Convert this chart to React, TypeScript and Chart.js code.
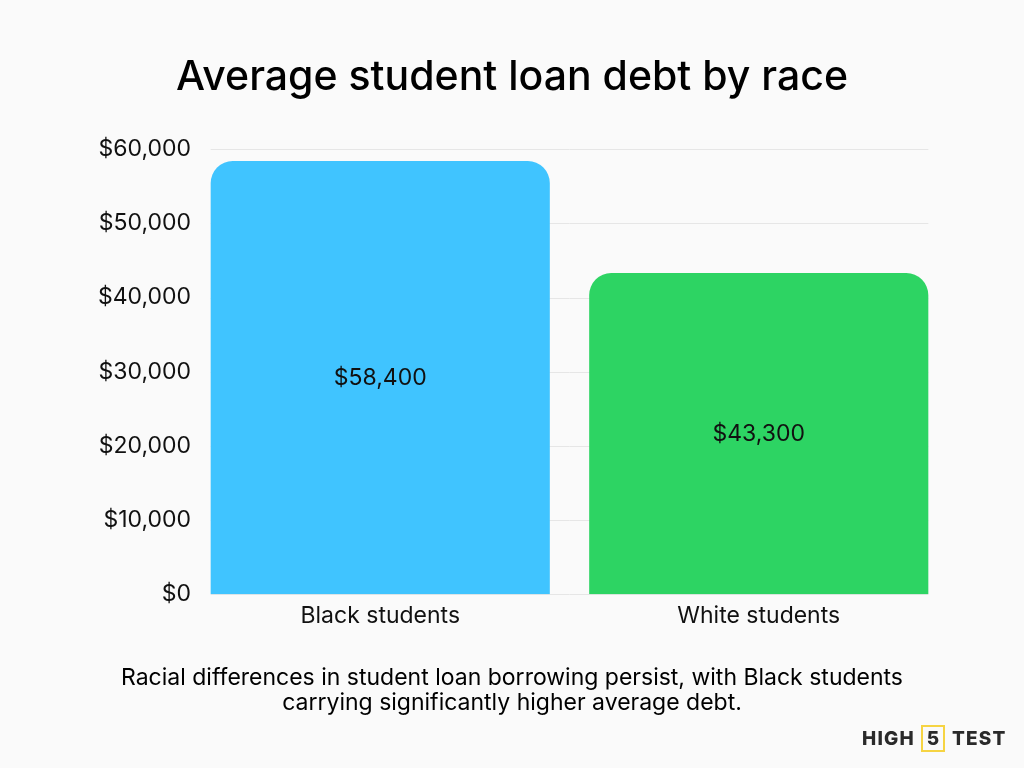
import React, { useEffect, useRef } from "react";
import { Chart, registerables } from "chart.js";

Chart.register(...registerables);

const categories: string[] = ["Black students", "White students"];
const debtValues: number[] = [58400, 43300];
const barColors: string[] = ["#40C4FF", "#2DD463"];
const yTickValues: number[] = [0, 10000, 20000, 30000, 40000, 50000, 60000];
const titleText = "Average student loan debt by race";
const captionLines: string[] = [
  "Racial differences in student loan borrowing persist, with Black students",
  "carrying significantly higher average debt.",
];

const FONT = "Inter, 'Open Sans', sans-serif";

const fmt = (v: number) => "$" + v.toLocaleString("en-US");

const gridPlugin = {
  id: "customGrid",
  beforeDatasetsDraw(chart: any) {
    const meta = chart.getDatasetMeta(0);
    if (!meta || !meta.data.length) return;
    const first = meta.data[0];
    const last = meta.data[meta.data.length - 1];
    const x0 = first.x - first.width / 2;
    const x1 = last.x + last.width / 2;
    const y = chart.scales.y;
    const ctx = chart.ctx;
    ctx.save();
    ctx.strokeStyle = "#e6e6e6";
    ctx.lineWidth = 1;
    y.ticks.forEach((t: any) => {
      const py = Math.round(y.getPixelForValue(t.value)) + 0.5;
      ctx.beginPath();
      ctx.moveTo(x0, py);
      ctx.lineTo(x1, py);
      ctx.stroke();
    });
    ctx.restore();
  },
};

const valueLabelPlugin = {
  id: "valueLabels",
  afterDatasetsDraw(chart: any) {
    const ctx = chart.ctx;
    const meta = chart.getDatasetMeta(0);
    const ds = chart.data.datasets[0];
    ctx.save();
    ctx.font = `400 23px ${FONT}`;
    ctx.fillStyle = "#111";
    ctx.textAlign = "center";
    ctx.textBaseline = "middle";
    meta.data.forEach((bar: any, i: number) => {
      const mid = (bar.y + bar.base) / 2;
      ctx.fillText(fmt(ds.data[i] as number), bar.x, mid);
    });
    ctx.restore();
  },
};

export default function App() {
  const ref = useRef<HTMLCanvasElement | null>(null);

  useEffect(() => {
    if (!ref.current) return;
    const chart = new Chart(ref.current, {
      type: "bar",
      data: {
        labels: categories,
        datasets: [
          {
            data: debtValues,
            backgroundColor: barColors,
            borderRadius: { topLeft: 22, topRight: 22, bottomLeft: 0, bottomRight: 0 },
            borderSkipped: false,
            barPercentage: 0.896,
            categoryPercentage: 1,
          },
        ],
      },
      options: {
        animation: false,
        responsive: false,
        devicePixelRatio: 1,
        layout: { padding: { left: 76, right: 76, top: 0, bottom: 0 } },
        plugins: {
          legend: { display: false },
          tooltip: { enabled: false },
          title: {
            display: true,
            text: titleText,
            color: "#000",
            font: { family: FONT, size: 41, weight: "500", lineHeight: 1.2 },
            padding: { top: 53, bottom: 47 },
          },
          subtitle: {
            display: true,
            position: "bottom",
            text: captionLines,
            color: "#000",
            font: { family: FONT, size: 23, weight: "400", lineHeight: 1.09 },
            padding: { top: 28, bottom: 52 },
          },
        },
        scales: {
          x: {
            grid: { display: false, drawTicks: false },
            border: { display: false },
            ticks: {
              color: "#111",
              font: { family: FONT, size: 23 },
              padding: 8,
            },
          },
          y: {
            min: 0,
            max: 60000,
            afterBuildTicks(scale: any) {
              scale.ticks = yTickValues.map((v) => ({ value: v }));
            },
            afterFit(scale: any) {
              scale.width = 115;
            },
            grid: { display: false, drawTicks: false },
            border: { display: false },
            ticks: {
              color: "#111",
              font: { family: FONT, size: 23 },
              padding: 0,
              callback: (v: any) => fmt(Number(v)),
            },
          },
        },
      },
      plugins: [gridPlugin, valueLabelPlugin],
    });
    return () => chart.destroy();
  }, []);

  return (
    <div
      style={{
        position: "fixed",
        left: 0,
        top: 0,
        width: 1024,
        height: 768,
        background: "#FAFAFA",
        overflow: "hidden",
      }}
    >
      <canvas ref={ref} width={1024} height={768} style={{ display: "block", width: 1024, height: 768 }} />
      <div
        style={{
          position: "absolute",
          left: 862,
          top: 725,
          height: 27,
          display: "flex",
          alignItems: "center",
          fontFamily: FONT,
          fontWeight: 800,
          fontSize: 19,
          letterSpacing: 1.2,
          color: "#2a2a2a",
        }}
      >
        <span>HIGH</span>
        <span
          style={{
            display: "inline-flex",
            alignItems: "center",
            justifyContent: "center",
            width: 20,
            height: 23,
            border: "2px solid #F6D443",
            margin: "0 7px 0 6px",
            letterSpacing: 0,
          }}
        >
          5
        </span>
        <span>TEST</span>
      </div>
    </div>
  );
}
